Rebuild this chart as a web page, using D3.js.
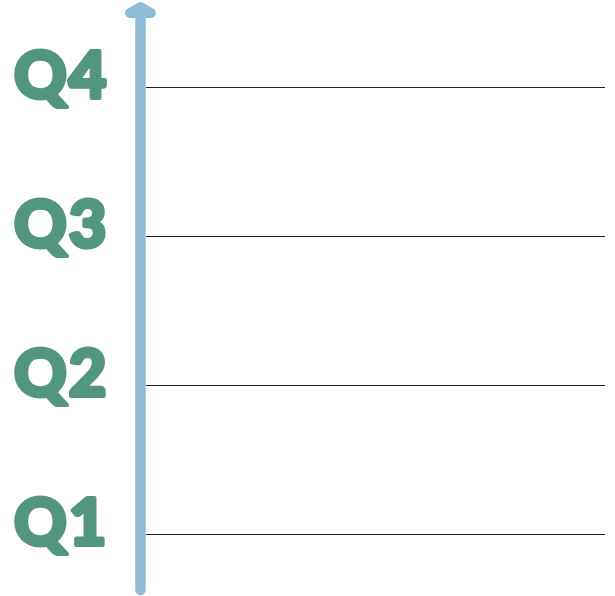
<!DOCTYPE html>
<html><head><meta charset="utf-8">
<script src="https://cdn.jsdelivr.net/npm/d3@7"></script>
<style>html,body{margin:0;padding:0;background:#fff;}svg{display:block;}</style>
</head><body>
<script>
const quarters = ["Q1","Q2","Q3","Q4"];
const W = 615, H = 596;
const svg = d3.select("body").append("svg").attr("width", W).attr("height", H);
const y = d3.scalePoint().domain(quarters).range([534.5, 87.5]);
const axisX = 140.5;
// grid lines
svg.selectAll("line.grid").data(quarters).join("line")
  .attr("class","grid")
  .attr("x1", 146).attr("x2", 605)
  .attr("y1", d => y(d)).attr("y2", d => y(d))
  .attr("stroke", "#222").attr("stroke-width", 1.2);
// arrow shaft
svg.append("line").attr("x1", axisX).attr("x2", axisX).attr("y1", 590).attr("y2", 8)
  .attr("stroke", "#8FBCD4").attr("stroke-width", 10.5).attr("stroke-linecap", "round");
// arrow head
svg.append("path").attr("d", `M${axisX-10.5},13 L${axisX},7 L${axisX+10.5},13 Z`)
  .attr("fill", "#8FBCD4").attr("stroke", "#8FBCD4").attr("stroke-width", 10)
  .attr("stroke-linejoin", "round").attr("stroke-linecap", "round");
// labels
svg.selectAll("text.q").data(quarters).join("text")
  .attr("class","q")
  .attr("x", 14).attr("y", d => y(d) + 10)
  .attr("font-family", "Lato").attr("font-weight", 900).attr("font-size", 65)
  .attr("letter-spacing", 2)
  .attr("fill", "#52967F").attr("stroke", "#52967F").attr("stroke-width", 4)
  .attr("stroke-linejoin", "round")
  .text(d => d);
</script>
</body></html>
